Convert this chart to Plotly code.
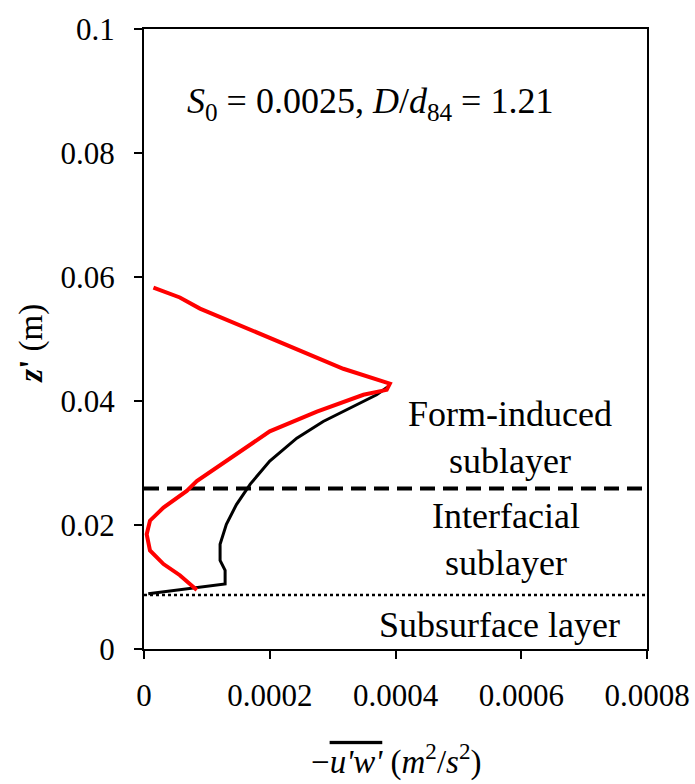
import plotly.graph_objects as go

# Red profile: -u'w' (m^2/s^2) vs z' (m)
red_x = [1.5e-5, 5.7e-5, 8.9e-5, 1.79e-4, 2.43e-4, 3.17e-4, 3.91e-4, 3.86e-4, 3.49e-4,
         2.75e-4, 2.0e-4, 1.37e-4, 8.4e-5, 6.8e-5, 3.1e-5, 9.5e-6, 4.3e-6, 9.5e-6,
         3.1e-5, 5.7e-5, 8.4e-5]
red_z = [0.0583, 0.0567, 0.0549, 0.0511, 0.0484, 0.0452, 0.0428, 0.0418, 0.0410,
         0.0383, 0.0351, 0.0308, 0.0271, 0.0255, 0.0228, 0.0207, 0.0185, 0.0159,
         0.0137, 0.0119, 0.0095]

# Black profile
black_x = [6.8e-6, 1.21e-4, 1.29e-4, 1.29e-4, 1.21e-4, 1.21e-4, 1.31e-4, 1.47e-4,
           1.69e-4, 2.0e-4, 2.43e-4, 2.85e-4, 3.27e-4, 3.70e-4, 3.88e-4]
black_z = [0.0089, 0.0103, 0.0105, 0.0127, 0.0143, 0.0169, 0.0201, 0.0233,
           0.0266, 0.0303, 0.0340, 0.0367, 0.0388, 0.0410, 0.0423]

# Layer boundaries
x_span = [0, 0.0008]
form_induced_z = 0.0259
subsurface_z = 0.0087

x_ticks = [0, 0.0002, 0.0004, 0.0006, 0.0008]
x_tick_labels = ["0", "0.0002", "0.0004", "0.0006", "0.0008"]
y_ticks = [0, 0.02, 0.04, 0.06, 0.08, 0.1]
y_tick_labels = ["0", "0.02", "0.04", "0.06", "0.08", "0.1"]

FONT = "Liberation Serif"

fig = go.Figure()
fig.add_trace(go.Scatter(x=x_span, y=[form_induced_z] * 2, mode="lines",
                         line=dict(color="black", width=4, dash="15px,8px"), showlegend=False))
fig.add_trace(go.Scatter(x=x_span, y=[subsurface_z] * 2, mode="lines",
                         line=dict(color="black", width=2.5, dash="3px,3px"), showlegend=False))
fig.add_trace(go.Scatter(x=black_x, y=black_z, mode="lines",
                         line=dict(color="black", width=3), showlegend=False))
fig.add_trace(go.Scatter(x=red_x, y=red_z, mode="lines",
                         line=dict(color="#ff0000", width=4), showlegend=False))

axis_common = dict(showline=True, linecolor="black", linewidth=2, mirror=True,
                   ticks="outside", ticklen=8, tickwidth=2, tickcolor="black",
                   showgrid=False, zeroline=False, automargin=False,
                   tickfont=dict(family=FONT, size=31, color="black"))

fig.update_xaxes(range=[0, 0.0008], tickvals=x_ticks, ticktext=x_tick_labels,
                 ticklabelstandoff=10, ticklabeloverflow="allow", **axis_common)
fig.update_yaxes(range=[0, 0.1], tickvals=y_ticks, ticktext=y_tick_labels,
                 ticklabelstandoff=13, **axis_common)

annotations = [
    dict(x=0.000359, y=0.0880, text="<i>S</i><sub>0</sub> = 0.0025, <i>D</i>/<i>d</i><sub>84</sub> = 1.21"),
    dict(x=0.000582, y=0.0341, text="Form-induced<br>sublayer"),
    dict(x=0.000575, y=0.0177, text="Interfacial<br>sublayer"),
    dict(x=0.000566, y=0.00385, text="Subsurface layer"),
]
for a in annotations:
    a.update(xref="x", yref="y", showarrow=False, xanchor="center", yanchor="middle",
             font=dict(family=FONT, size=36, color="black"))
    fig.add_annotation(**a)

# axis titles
fig.add_annotation(xref="paper", yref="paper", x=-0.2227, y=0.494, textangle=-90,
                   xanchor="center", yanchor="middle",
                   text="<b><i>z</i>'</b> (m)", showarrow=False,
                   font=dict(family=FONT, size=33, color="black"))
fig.add_annotation(xref="paper", yref="paper", x=0.5, y=-0.179, yanchor="middle",
                   xanchor="center",
                   text="−<i><span style='text-decoration:overline'>u'w'</span></i> "
                        "(<i>m</i><sup>2</sup>/<i>s</i><sup>2</sup>)",
                   showarrow=False, font=dict(family=FONT, size=33, color="black"))

fig.update_layout(width=695, height=784, margin=dict(l=144, r=48, t=29, b=135, autoexpand=False),
                  paper_bgcolor="white", plot_bgcolor="white")

fig.write_html("out.html")
